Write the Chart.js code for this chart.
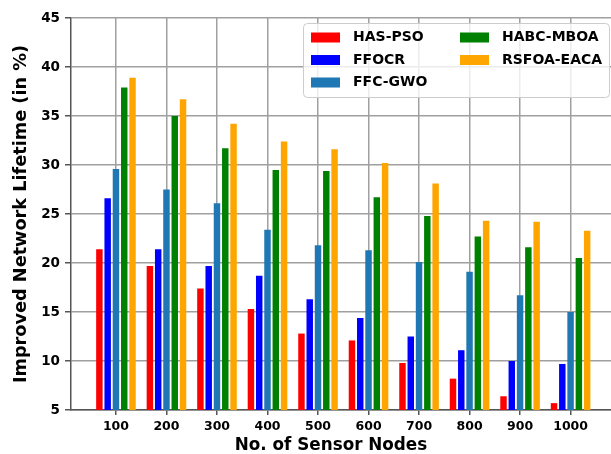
<!DOCTYPE html>
<html><head><meta charset="utf-8">
<script src="https://cdn.jsdelivr.net/npm/chart.js@4.4.0/dist/chart.umd.min.js"></script>
<style>html,body{margin:0;padding:0;background:#fff}#wrap{width:611px;height:454px}</style>
</head><body><div id="wrap"><canvas id="c" width="611" height="454"></canvas></div>
<script>
const nodes = [100, 200, 300, 400, 500, 600, 700, 800, 900, 1000];
const seriesNames = ['HAS-PSO', 'FFOCR', 'FFC-GWO', 'HABC-MBOA', 'RSFOA-EACA'];
const hasPso    = [21.4, 19.7, 17.4, 15.3, 12.8, 12.1, 9.8, 8.2, 6.4, 5.7];
const ffocr     = [26.6, 21.4, 19.7, 18.7, 16.3, 14.4, 12.5, 11.1, 10.0, 9.7];
const ffcGwo    = [29.6, 27.5, 26.1, 23.4, 21.8, 21.3, 20.1, 19.1, 16.7, 15.0];
const habcMboa  = [37.9, 35.0, 31.7, 29.5, 29.4, 26.7, 24.8, 22.7, 21.6, 20.5];
const rsfoaEaca = [38.9, 36.7, 34.2, 32.4, 31.6, 30.2, 28.1, 24.3, 24.2, 23.3];
const yTicks = [5, 10, 15, 20, 25, 30, 35, 40, 45];

const seriesValues = [hasPso, ffocr, ffcGwo, habcMboa, rsfoaEaca];
const colors = ['#ff0000', '#0000ff', '#1f77b4', '#008000', '#ffa500'];
const FONT = '"DejaVu Sans", sans-serif';

const legendPlugin = {
  id: 'colLegend',
  beforeDraw(chart) {
    const s = chart.scales.x;
    if (s && !s._titleShifted) {
      const orig = s.drawTitle;
      s.drawTitle = function () {
        const r = this.right;
        this.right = r - 20;
        orig.call(this);
        this.right = r;
      };
      s._titleShifted = true;
    }
  },
  afterDraw(chart) {
    const ctx = chart.ctx;
    ctx.save();
    const x0 = 303.5, y0 = 23.5, w = 306, h = 74, r = 4;
    ctx.beginPath();
    ctx.moveTo(x0 + r, y0);
    ctx.lineTo(x0 + w - r, y0); ctx.quadraticCurveTo(x0 + w, y0, x0 + w, y0 + r);
    ctx.lineTo(x0 + w, y0 + h - r); ctx.quadraticCurveTo(x0 + w, y0 + h, x0 + w - r, y0 + h);
    ctx.lineTo(x0 + r, y0 + h); ctx.quadraticCurveTo(x0, y0 + h, x0, y0 + h - r);
    ctx.lineTo(x0, y0 + r); ctx.quadraticCurveTo(x0, y0, x0 + r, y0);
    ctx.closePath();
    ctx.fillStyle = 'rgba(255,255,255,0.8)';
    ctx.fill();
    ctx.strokeStyle = '#cccccc';
    ctx.lineWidth = 1;
    ctx.stroke();
    const colX = [311, 460];
    const rowY = [37.5, 60, 82.5];
    ctx.font = 'bold 14px ' + FONT;
    ctx.textBaseline = 'middle';
    ctx.textAlign = 'left';
    chart.data.datasets.forEach((ds, i) => {
      const c = Math.floor(i / 3), rr = i % 3;
      const sx = colX[c], sy = rowY[rr];
      ctx.fillStyle = ds.backgroundColor;
      ctx.fillRect(sx, sy - 5, 29, 10);
      ctx.fillStyle = '#000';
      ctx.fillText(ds.label, sx + 42, sy);
    });
    ctx.restore();
  }
};

new Chart(document.getElementById('c'), {
  type: 'bar',
  data: {
    datasets: seriesNames.map((name, i) => ({
      label: name,
      data: nodes.map((n, j) => ({ x: n, y: seriesValues[i][j] })),
      backgroundColor: colors[i],
      borderWidth: 0,
      categoryPercentage: 0.82,
      barPercentage: 0.78
    }))
  },
  options: {
    responsive: false,
    animation: false,
    devicePixelRatio: 1,
    layout: { padding: { top: 18, right: 0, left: 0, bottom: 0 } },
    plugins: { legend: { display: false }, tooltip: { enabled: false } },
    scales: {
      x: {
        type: 'linear',
        min: 11, max: 1080,
        offset: false,
        afterBuildTicks: (axis) => { axis.ticks = nodes.map(v => ({ value: v })); },
        afterFit: (s) => { s.height = 44; },
        grid: { offset: false, color: '#a0a0a0', lineWidth: 1.5, tickLength: 5, tickColor: '#555' },
        border: { color: '#555', width: 1.5 },
        ticks: { color: '#000', padding: 4, maxRotation: 0, autoSkip: false,
          font: { family: FONT, weight: 'bold', size: 12.5 },
          callback: (v) => String(v) },
        title: { display: true, text: 'No. of Sensor Nodes', color: '#000',
          padding: { top: 0, bottom: 0 },
          font: { family: FONT, weight: 'bold', size: 16.8, lineHeight: 1 } }
      },
      y: {
        min: 5, max: 45,
        afterBuildTicks: (axis) => { axis.ticks = yTicks.map(v => ({ value: v })); },
        afterFit: (s) => { s.width = 71; },
        grid: { color: '#a0a0a0', lineWidth: 1.5, tickLength: 6, tickColor: '#555' },
        border: { color: '#555', width: 1.5 },
        ticks: { color: '#000', padding: 5,
          font: { family: FONT, weight: 'bold', size: 13.5 } },
        title: { display: true, text: 'Improved Network Lifetime (in %)', color: '#000',
          padding: { top: 13, bottom: 0 },
          font: { family: FONT, weight: 'bold', size: 17.7, lineHeight: 1 } }
      }
    }
  },
  plugins: [legendPlugin]
});
</script></body></html>
